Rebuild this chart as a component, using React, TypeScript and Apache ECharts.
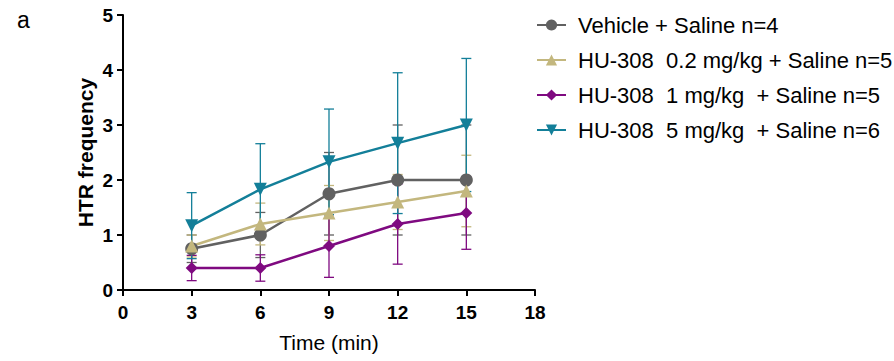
import React, { useEffect, useRef } from "react";
import * as echarts from "echarts";

const times = [3, 6, 9, 12, 15];
const xTicks = [0, 3, 6, 9, 12, 15, 18];
const seriesNames = [
  "Vehicle + Saline n=4",
  "HU-308  0.2 mg/kg + Saline n=5",
  "HU-308  1 mg/kg  + Saline n=5",
  "HU-308  5 mg/kg  + Saline n=6",
];
const vehicleMean = [0.75, 1.0, 1.75, 2.0, 2.0];
const vehicleErr = [0.25, 0.41, 0.75, 1.0, 1.0];
const hu02Mean = [0.8, 1.2, 1.4, 1.6, 1.8];
const hu02Err = [0.2, 0.38, 0.5, 0.5, 0.65];
const hu1Mean = [0.4, 0.4, 0.8, 1.2, 1.4];
const hu1Err = [0.23, 0.24, 0.57, 0.73, 0.66];
const hu5Mean = [1.17, 1.83, 2.33, 2.67, 3.0];
const hu5Err = [0.6, 0.83, 0.96, 1.28, 1.21];

const colors = ["#616161", "#c3b77e", "#7f0a80", "#137f99"];
const symbols = ["circle", "triangle", "diamond", "triangle"];
const symbolSizes = [13, 13, 12, 13];
const symbolRotates = [0, 0, 0, 180];
const means = [vehicleMean, hu02Mean, hu1Mean, hu5Mean];
const errs = [vehicleErr, hu02Err, hu1Err, hu5Err];

const FONT = "'Liberation Sans', Arial, sans-serif";

export default function App() {
  const ref = useRef<HTMLDivElement>(null);
  useEffect(() => {
    if (!ref.current) return;
    const chart = echarts.init(ref.current, undefined, { renderer: "svg" });
    const lineSeries: any[] = seriesNames.map((name, k) => ({
      name,
      type: "line",
      data: times.map((t, i) => [t, means[k][i]]),
      symbol: symbols[k],
      symbolSize: symbolSizes[k],
      symbolRotate: symbolRotates[k],
      itemStyle: { color: colors[k] },
      lineStyle: { color: colors[k], width: 2.5 },
      z: 3,
    }));
    const errSeries: any[] = seriesNames.map((name, k) => ({
      name: "err" + k,
      type: "custom",
      data: times.map((t, i) => [t, means[k][i] - errs[k][i], means[k][i] + errs[k][i]]),
      encode: { x: 0, y: [1, 2] },
      z: 2,
      renderItem: (params: any, api: any) => {
        const x = api.value(0);
        const pLo = api.coord([x, api.value(1)]);
        const pHi = api.coord([x, api.value(2)]);
        const c = 5;
        const style = { stroke: colors[k], lineWidth: 1.3, fill: null };
        return {
          type: "group",
          children: [
            { type: "line", shape: { x1: pLo[0], y1: pLo[1], x2: pHi[0], y2: pHi[1] }, style },
            { type: "line", shape: { x1: pHi[0] - c, y1: pHi[1], x2: pHi[0] + c, y2: pHi[1] }, style },
            { type: "line", shape: { x1: pLo[0] - c, y1: pLo[1], x2: pLo[0] + c, y2: pLo[1] }, style },
          ],
        };
      },
    }));
    chart.setOption({
      animation: false,
      textStyle: { fontFamily: FONT },
      title: {
        text: "a",
        left: 12,
        top: 3,
        textStyle: { fontSize: 23, fontWeight: "normal", color: "#000", fontFamily: FONT },
      },
      grid: { left: 123, top: 15, right: 359, bottom: 71, containLabel: false },
      legend: {
        orient: "vertical",
        left: 531,
        top: 9,
        itemWidth: 29,
        itemHeight: 14,
        itemGap: 13,
        data: seriesNames,
        textStyle: {
          fontSize: 22,
          color: "#000",
          fontFamily: FONT,
          lineHeight: 22,
          padding: [0, 0, 0, 7],
        },
      },
      xAxis: {
        type: "value",
        min: 0,
        max: 18,
        interval: 3,
        name: "Time (min)",
        nameLocation: "middle",
        nameGap: 42,
        nameTextStyle: { fontSize: 21, color: "#000", fontFamily: FONT },
        axisLine: { lineStyle: { color: "#000", width: 2 } },
        axisTick: { show: true, length: 6, lineStyle: { color: "#000", width: 2 } },
        axisLabel: {
          fontSize: 19,
          fontWeight: "bold",
          color: "#000",
          margin: 13,
          fontFamily: FONT,
          formatter: (v: number) => (xTicks.includes(v) ? String(v) : ""),
        },
        splitLine: { show: false },
      },
      yAxis: {
        type: "value",
        min: 0,
        max: 5,
        interval: 1,
        name: "HTR frequency",
        nameLocation: "middle",
        nameGap: 27,
        nameTextStyle: { fontSize: 21, fontWeight: "bold", color: "#000", fontFamily: FONT },
        axisLine: { show: true, lineStyle: { color: "#000", width: 2 } },
        axisTick: { show: true, length: 6, lineStyle: { color: "#000", width: 2 } },
        axisLabel: { fontSize: 19, fontWeight: "bold", color: "#000", margin: 10, fontFamily: FONT },
        splitLine: { show: false },
      },
      series: [...errSeries, ...lineSeries],
    });
    return () => chart.dispose();
  }, []);
  return <div ref={ref} style={{ width: 894, height: 361, position: "absolute", left: 0, top: 0 }} />;
}
